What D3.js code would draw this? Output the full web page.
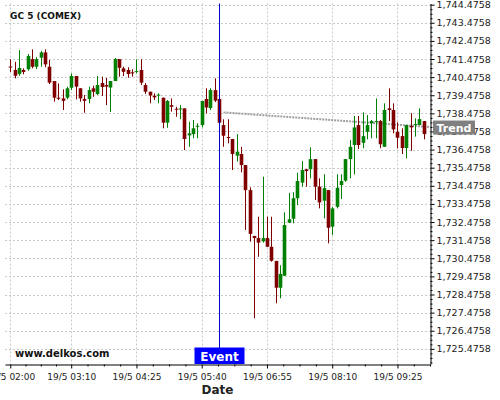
<!DOCTYPE html>
<html>
<head>
<meta charset="utf-8">
<script src="https://cdn.jsdelivr.net/npm/d3@7"></script>
<style>
body { margin: 0; background: #fff; }
svg { display: block; font-family: "DejaVu Sans", sans-serif; }
</style>
</head>
<body>
<svg width="500" height="400"></svg>
<script>
// 5 min bars, 19/5 02:00 onwards
const opens = [1741.06,1740.87,1740.65,1740.87,1740.91,1741.47,1741.05,1741.55,1741.84,1741.05,
  1740.26,1739.34,1739.30,1739.34,1739.89,1740.54,1739.86,1739.27,1739.27,1739.86,
  1739.54,1740.15,1740.04,1739.90,1740.26,1741.47,1740.96,1740.87,1740.74,1740.76,
  1740.87,1740.04,1739.67,1739.45,1739.49,1739.34,1737.96,1738.93,1738.73,1738.70,
  1738.75,1737.26,1737.33,1737.74,1737.83,1739.27,1738.77,1739.76,1739.27,1737.83,
  1737.17,1737.06,1736.14,1736.23,1735.62,1734.24,1731.71,1731.59,1731.41,1731.59,
  1731.11,1730.33,1728.85,1729.51,1732.44,1732.66,1733.79,1734.65,1735.39,1735.39,
  1735.95,1734.43,1733.65,1734.24,1732.22,1733.32,1734.52,1734.76,1735.95,1736.73,
  1737.83,1736.85,1737.46,1737.93,1738.00,1738.05,1736.63,1738.75,1738.66,1737.46,
  1737.22,1736.56,1737.78,1737.83,1737.83,1738.05];
const highs = [1741.46,1741.32,1741.97,1740.96,1741.75,1742.01,1741.58,1741.92,1742.01,1741.42,
  1740.26,1740.13,1739.80,1739.95,1740.68,1740.54,1739.86,1739.49,1739.95,1740.00,
  1740.54,1740.50,1740.43,1740.26,1741.53,1741.47,1741.05,1741.02,1740.91,1741.46,
  1741.46,1740.15,1739.67,1739.58,1739.58,1739.34,1739.21,1739.30,1738.84,1738.93,
  1738.75,1738.01,1738.11,1737.93,1739.16,1739.86,1739.86,1740.41,1739.38,1738.15,
  1738.15,1737.06,1737.33,1736.63,1735.62,1734.39,1731.71,1732.77,1734.98,1732.77,
  1732.77,1730.33,1730.09,1733.01,1734.09,1734.12,1735.20,1735.84,1735.39,1736.60,
  1735.95,1734.89,1735.11,1734.24,1733.32,1735.11,1735.11,1735.95,1737.00,1738.33,
  1738.33,1738.53,1738.38,1738.11,1739.30,1738.11,1739.03,1739.86,1739.03,1737.98,
  1737.65,1737.83,1738.48,1738.20,1738.75,1738.05];
const lows = [1740.76,1740.41,1740.55,1740.63,1740.83,1740.96,1740.92,1741.05,1741.02,1740.09,
  1739.12,1739.21,1738.66,1739.25,1739.76,1739.25,1739.12,1738.51,1739.03,1739.39,
  1739.49,1739.43,1738.93,1738.55,1740.26,1740.50,1740.54,1740.44,1740.50,1740.68,
  1740.04,1739.54,1739.03,1739.21,1739.03,1737.65,1737.68,1738.57,1738.29,1738.15,
  1736.45,1736.63,1737.10,1737.10,1737.70,1738.47,1738.66,1739.10,1737.96,1736.63,
  1736.82,1735.35,1735.81,1735.22,1732.04,1731.39,1727.16,1730.56,1731.34,1731.11,
  1730.29,1727.99,1728.27,1729.51,1732.44,1732.41,1733.42,1734.43,1734.43,1734.89,
  1733.69,1733.23,1732.68,1731.30,1731.76,1733.23,1733.75,1734.70,1734.89,1735.11,
  1736.51,1736.55,1737.04,1737.10,1737.10,1736.55,1736.63,1738.05,1737.37,1736.55,
  1736.23,1735.99,1736.41,1737.19,1737.83,1737.04];
const closes = [1741.03,1740.55,1740.98,1740.76,1741.64,1741.05,1741.47,1741.84,1741.18,1740.17,
  1739.34,1739.28,1739.17,1739.86,1740.54,1739.95,1739.30,1739.17,1739.76,1739.67,
  1740.04,1739.93,1739.95,1740.26,1741.47,1740.99,1740.77,1740.65,1740.68,1740.81,
  1740.17,1739.67,1739.46,1739.36,1739.51,1737.96,1739.16,1738.84,1738.70,1738.75,
  1737.06,1737.37,1737.65,1737.79,1739.16,1738.80,1739.76,1739.18,1737.96,1737.24,
  1737.13,1736.23,1736.36,1735.62,1734.24,1731.82,1731.59,1731.34,1731.59,1731.11,
  1730.34,1728.85,1729.61,1732.31,1732.63,1733.79,1734.74,1735.35,1735.29,1735.95,
  1734.43,1733.56,1734.35,1732.16,1733.23,1734.37,1734.74,1735.95,1736.63,1737.70,
  1736.73,1737.22,1737.83,1738.05,1738.05,1736.77,1738.66,1738.66,1737.59,1737.13,
  1736.56,1737.83,1737.70,1737.89,1738.16,1737.33];

const xTickIdx = [0, 14, 29, 44, 59, 74, 89];
const xTickLabels = ["19/5 02:00", "19/5 03:10", "19/5 04:25", "19/5 05:40", "19/5 06:55", "19/5 08:10", "19/5 09:25"];
const yTicks = [1725.4758, 1726.4758, 1727.4758, 1728.4758, 1729.4758, 1730.4758, 1731.4758,
  1732.4758, 1733.4758, 1734.4758, 1735.4758, 1736.4758, 1737.4758, 1738.4758, 1739.4758,
  1740.4758, 1741.4758, 1742.4758, 1743.4758, 1744.4758];

const eventIdx = 48;
const trendIdx = [49, 96.48];
const trendPrice = [1738.53, 1737.72];

const svg = d3.select("svg");
const plotL = 5, plotR = 430, plotT = 3.5, plotB = 364;

const x = d3.scaleLinear().domain([-1.22, 96.48]).range([plotL, plotR]);
const y = d3.scaleLinear().domain([1724.64, 1744.54]).range([plotB, plotT]);

// grid
svg.append("g").selectAll("line").data(yTicks).join("line")
    .attr("x1", plotL).attr("x2", plotR)
    .attr("y1", d => Math.round(y(d)) + 0.5).attr("y2", d => Math.round(y(d)) + 0.5)
    .attr("stroke", "#c8c8c8").attr("stroke-dasharray", "2,2");
svg.append("g").selectAll("line").data(xTickIdx).join("line")
    .attr("x1", d => Math.round(x(d)) + 0.5).attr("x2", d => Math.round(x(d)) + 0.5)
    .attr("y1", plotT).attr("y2", plotB)
    .attr("stroke", "#c8c8c8").attr("stroke-dasharray", "2,2");

// trend line
svg.append("line")
    .attr("x1", x(trendIdx[0])).attr("y1", y(trendPrice[0]))
    .attr("x2", x(trendIdx[1])).attr("y2", y(trendPrice[1]))
    .attr("stroke", "#a0a0a0").attr("stroke-width", 2).attr("stroke-dasharray", "2,1");

// candles
const bars = opens.map((o, i) => ({ i, o, h: highs[i], l: lows[i], c: closes[i] }));
const colour = d => d.c >= d.o ? "#008000" : "#800000";

const g = svg.append("g");
g.selectAll(".wick").data(bars).join("line")
    .attr("class", "wick")
    .attr("x1", d => Math.round(x(d.i)) + 0.5).attr("x2", d => Math.round(x(d.i)) + 0.5)
    .attr("y1", d => y(d.h)).attr("y2", d => y(d.l))
    .attr("stroke", colour);
g.selectAll(".body").data(bars).join("rect")
    .attr("class", "body")
    .attr("x", d => Math.round(x(d.i)) + 0.5 - 1.8)
    .attr("width", 3.6)
    .attr("y", d => y(Math.max(d.o, d.c)))
    .attr("height", d => Math.max(1, Math.abs(y(d.o) - y(d.c))))
    .attr("fill", colour);

// event marker
const ex = Math.round(x(eventIdx)) + 0.5;
svg.append("line")
    .attr("x1", ex).attr("x2", ex).attr("y1", plotT).attr("y2", 348)
    .attr("stroke", "#0000c8");

// axes
const fmt = d3.format(",.4f");
const yAxis = svg.append("g")
    .attr("transform", `translate(${plotR + 0.5},0)`)
    .call(d3.axisRight(y).tickValues(yTicks).tickFormat(fmt).tickSize(4).tickPadding(2).tickSizeOuter(0));
const yMinor = d3.range(1724.7258, 1744.54, 0.25).filter(v => Math.abs((v - 1725.4758) % 1) > 0.01 && Math.abs((v - 1725.4758) % 1) < 0.99);
svg.append("g")
    .attr("transform", `translate(${plotR + 0.5},0)`)
    .call(d3.axisRight(y).tickValues(yMinor).tickFormat("").tickSize(2).tickSizeOuter(0))
    .call(a => a.select(".domain").remove());

const xAxis = svg.append("g")
    .attr("transform", `translate(0,${plotB + 0.5})`)
    .call(d3.axisBottom(x).tickValues(xTickIdx).tickFormat((d, i) => xTickLabels[i]).tickSize(4).tickPadding(5).tickSizeOuter(0));
const xMinor = [];
xTickIdx.forEach((t, k) => {
    const next = k < xTickIdx.length - 1 ? xTickIdx[k + 1] : t + 15;
    for (let j = 1; j < 4; j++) xMinor.push(t + (next - t) * j / 4);
});
svg.append("g")
    .attr("transform", `translate(0,${plotB + 0.5})`)
    .call(d3.axisBottom(x).tickValues(xMinor.filter(v => v <= 96.5)).tickFormat("").tickSize(2).tickSizeOuter(0))
    .call(a => a.select(".domain").remove());

yAxis.selectAll("text").attr("font-size", "9.5px").attr("fill", "#222").attr("font-family", "DejaVu Sans");
xAxis.selectAll("text").attr("font-size", "9px").attr("fill", "#222").attr("font-family", "DejaVu Sans");

// labels
svg.append("rect").attr("x", ex - 25).attr("y", 347.5).attr("width", 50).attr("height", 16.5).attr("fill", "#0000ff");
svg.append("text").attr("x", ex).attr("y", 360.5).attr("text-anchor", "middle")
    .attr("fill", "#fff").attr("font-weight", "bold").attr("font-size", "12px").text("Event");

const ty = y(trendPrice[1]);
svg.append("rect").attr("x", 433).attr("y", ty - 6.5).attr("width", 42).attr("height", 14).attr("fill", "#808080");
svg.append("text").attr("x", 454).attr("y", ty + 4.5).attr("text-anchor", "middle")
    .attr("fill", "#fff").attr("font-weight", "bold").attr("font-size", "11px").text("Trend");

svg.append("text").attr("x", 10).attr("y", 19).attr("font-weight", "bold").attr("font-size", "9px")
    .attr("fill", "#111").text("GC 5 (COMEX)");
svg.append("text").attr("x", 15).attr("y", 357).attr("font-weight", "bold").attr("font-size", "10px")
    .attr("fill", "#111").text("www.delkos.com");
svg.append("text").attr("x", (plotL + plotR) / 2).attr("y", 394).attr("text-anchor", "middle")
    .attr("font-weight", "bold").attr("font-size", "12px").attr("fill", "#222").text("Date");
</script>
</body>
</html>
